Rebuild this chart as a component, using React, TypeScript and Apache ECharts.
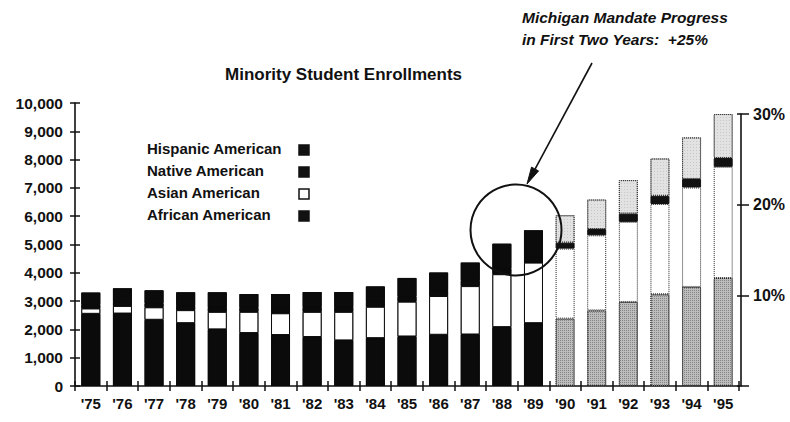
import React, { useEffect, useRef } from "react";
import * as echarts from "echarts";

const years = ["'75", "'76", "'77", "'78", "'79", "'80", "'81", "'82", "'83", "'84", "'85", "'86", "'87", "'88", "'89", "'90", "'91", "'92", "'93", "'94", "'95"];
const firstProjectedIndex = 15;
const africanAmerican = [2550, 2560, 2340, 2220, 2000, 1870, 1800, 1730, 1610, 1690, 1750, 1810, 1820, 2080, 2220, 2380, 2670, 2970, 3240, 3500, 3815];
const asianAmerican = [190, 270, 440, 460, 620, 750, 770, 890, 1010, 1110, 1230, 1370, 1710, 1870, 2140, 2475, 2655, 2830, 3190, 3515, 3930];
const nativeAmerican = [130, 140, 140, 150, 150, 150, 160, 160, 160, 170, 180, 190, 190, 200, 210, 210, 220, 290, 290, 300, 310];
const hispanicAmerican = [430, 480, 460, 480, 540, 480, 520, 540, 540, 550, 660, 640, 640, 880, 930, 970, 1045, 1185, 1320, 1470, 1555];
const legendNames = ["Hispanic American", "Native American", "Asian American", "African American"];
const leftTicks = { min: 0, max: 10000, interval: 1000 };
const rightTicks = { min: 0, max: 30, interval: 10 };
const titleText = "Minority Student Enrollments";
const noteLines = ["Michigan Mandate Progress", "in First Two Years:  +25%"];

const FONT = "Liberation Sans, Arial, Helvetica, sans-serif";

type SegStyle = { hist: any; proj: any };

const styles: Record<string, SegStyle> = {
  african: {
    hist: { color: "#0b0b0b", borderColor: "#0b0b0b", borderWidth: 1 },
    proj: {
      color: "#bdbdbd",
      borderColor: "#222",
      borderWidth: 1,
      borderType: "dotted",
      decal: { symbol: "rect", symbolSize: 1, dashArrayX: [1, 1], dashArrayY: [1, 1], color: "rgba(0,0,0,0.3)" },
    },
  },
  asian: {
    hist: { color: "#ffffff", borderColor: "#0b0b0b", borderWidth: 1 },
    proj: { color: "#ffffff", borderColor: "#222", borderWidth: 1, borderType: "dotted" },
  },
  native: {
    hist: { color: "#0b0b0b", borderColor: "#0b0b0b", borderWidth: 1 },
    proj: { color: "#111", borderColor: "#111", borderWidth: 1 },
  },
  hispanic: {
    hist: { color: "#0b0b0b", borderColor: "#0b0b0b", borderWidth: 1 },
    proj: {
      color: "#e2e2e2",
      borderColor: "#333",
      borderWidth: 1,
      borderType: "dotted",
      decal: { symbol: "rect", symbolSize: 1, dashArrayX: [1, 2], dashArrayY: [1, 2], color: "rgba(0,0,0,0.12)" },
    },
  },
};

function buildData(values: number[], key: string) {
  return values.map((v, i) => ({
    value: v,
    itemStyle: i >= firstProjectedIndex ? styles[key].proj : styles[key].hist,
  }));
}

export default function App() {
  const ref = useRef<HTMLDivElement>(null);

  useEffect(() => {
    if (!ref.current) return;
    const chart = echarts.init(ref.current, undefined, { renderer: "svg" });

    const tickLabel = { fontFamily: FONT, fontSize: 15, fontWeight: "bold", color: "#111" };

    const seriesDefs = [
      { name: "African American", key: "african", values: africanAmerican },
      { name: "Asian American", key: "asian", values: asianAmerican },
      { name: "Native American", key: "native", values: nativeAmerican },
      { name: "Hispanic American", key: "hispanic", values: hispanicAmerican },
    ];

    // black backdrop behind historical stacks (hides anti-aliasing seams between black segments)
    const totals = years.map(
      (_, i) => africanAmerican[i] + asianAmerican[i] + nativeAmerican[i] + hispanicAmerican[i]
    );

    const legendFill: Record<string, string> = {
      "Hispanic American": "#111",
      "Native American": "#111",
      "Asian American": "#fff",
      "African American": "#111",
    };

    const legendGraphics: any[] = [];
    legendNames.forEach((name, i) => {
      const cy = 150 + i * 22;
      legendGraphics.push({
        type: "text",
        left: 147,
        top: cy - 9,
        style: { text: name, font: `bold 15px ${FONT}`, fill: "#111" },
      });
      legendGraphics.push({
        type: "rect",
        shape: { x: 299, y: cy - 5, width: 10, height: 10 },
        style: { fill: legendFill[name], stroke: "#111", lineWidth: 1.5 },
      });
    });

    const tip = [527, 184];
    const start = [592, 63];
    const dx = tip[0] - start[0];
    const dy = tip[1] - start[1];
    const len = Math.hypot(dx, dy);
    const ux = dx / len, uy = dy / len;
    const headLen = 17, headHalf = 4;
    const base = [tip[0] - ux * headLen, tip[1] - uy * headLen];
    const px = -uy, py = ux;

    const option: any = {
      animation: false,
      backgroundColor: "#ffffff",
      grid: [
        { left: 75, right: 51, top: 103, bottom: 36 },
        { left: 75, right: 49, top: 114, bottom: 36 },
      ],
      xAxis: [
        {
          type: "category",
          gridIndex: 0,
          data: years,
          axisLine: { show: true, lineStyle: { color: "#111", width: 1.6 } },
          axisTick: { show: true, length: 5, lineStyle: { color: "#111", width: 1.5 } },
          axisLabel: { ...tickLabel, margin: 10 },
          splitLine: { show: false },
        },
        {
          type: "category",
          gridIndex: 0,
          data: years,
          position: "bottom",
          axisLine: { show: false },
          axisTick: { show: true, inside: true, length: 5, lineStyle: { color: "#111", width: 1.5 } },
          axisLabel: { show: false },
          splitLine: { show: false },
        },
        { type: "category", gridIndex: 1, data: years, show: false },
      ],
      yAxis: [
        {
          type: "value",
          gridIndex: 0,
          ...leftTicks,
          axisLine: { show: true, lineStyle: { color: "#111", width: 1.6 } },
          axisTick: { show: true, length: 5, lineStyle: { color: "#111", width: 1.5 } },
          axisLabel: { ...tickLabel, fontSize: 15.5, margin: 12, formatter: (v: number) => v.toLocaleString("en-US") },
          splitLine: { show: false },
        },
        {
          type: "value",
          gridIndex: 0,
          ...leftTicks,
          position: "left",
          axisLine: { show: false },
          axisTick: { show: true, inside: true, length: 5, lineStyle: { color: "#111", width: 1.5 } },
          axisLabel: { show: false },
          splitLine: { show: false },
        },
        {
          type: "value",
          gridIndex: 1,
          ...rightTicks,
          position: "right",
          axisLine: { show: true, lineStyle: { color: "#111", width: 1.6 } },
          axisTick: { show: true, length: 8, lineStyle: { color: "#111", width: 1.5 } },
          axisLabel: { ...tickLabel, fontSize: 16, margin: 12, formatter: (v: number) => (v === 0 ? "" : `${v}%`) },
          splitLine: { show: false },
        },
        {
          type: "value",
          gridIndex: 1,
          ...rightTicks,
          position: "right",
          axisLine: { show: false },
          axisTick: { show: true, inside: true, length: 4, lineStyle: { color: "#111", width: 1.5 } },
          axisLabel: { show: false },
          splitLine: { show: false },
        },
      ],
      series: [
        ...seriesDefs.map((s) => ({
          name: s.name,
          type: "bar",
          stack: "total",
          xAxisIndex: 0,
          yAxisIndex: 0,
          barWidth: 19,
          barGap: "-100%",
          z: 3,
          itemStyle: { color: s.key === "asian" ? "#fff" : "#111" },
          data: buildData(s.values, s.key),
        })),
        {
          name: "backdrop",
          type: "bar",
          xAxisIndex: 0,
          yAxisIndex: 0,
          barWidth: 19,
          barGap: "-100%",
          z: 1,
          silent: true,
          data: totals.map((v, i) => ({
            value: v,
            itemStyle: { color: i >= firstProjectedIndex ? "rgba(0,0,0,0)" : "#0b0b0b" },
          })),
        },
      ],
      graphic: [
        {
          type: "text",
          left: 225,
          top: 66,
          style: { text: titleText, font: `bold 17px ${FONT}`, fill: "#111" },
        },
        {
          type: "text",
          left: 522,
          top: 9,
          style: { text: noteLines[0], font: `italic bold 15.5px ${FONT}`, fill: "#111" },
        },
        {
          type: "text",
          left: 522,
          top: 31,
          style: { text: noteLines[1], font: `italic bold 15.5px ${FONT}`, fill: "#111" },
        },
        {
          type: "line",
          shape: { x1: start[0], y1: start[1], x2: base[0], y2: base[1] },
          style: { stroke: "#111", lineWidth: 1.6 },
          z: 100,
        },
        {
          type: "polygon",
          shape: {
            points: [
              [tip[0], tip[1]],
              [base[0] + px * headHalf, base[1] + py * headHalf],
              [base[0] - px * headHalf, base[1] - py * headHalf],
            ],
          },
          style: { fill: "#111", stroke: "#111", lineWidth: 1 },
          z: 100,
        },
        {
          type: "circle",
          shape: { cx: 516, cy: 230, r: 45.5 },
          style: { fill: "none", stroke: "#111", lineWidth: 2 },
          z: 100,
        },
        ...legendGraphics,
      ],
    };

    chart.setOption(option);
    return () => chart.dispose();
  }, []);

  return (
    <div
      ref={ref}
      style={{ position: "fixed", left: 0, top: 0, width: 790, height: 422, background: "#fff" }}
    />
  );
}
